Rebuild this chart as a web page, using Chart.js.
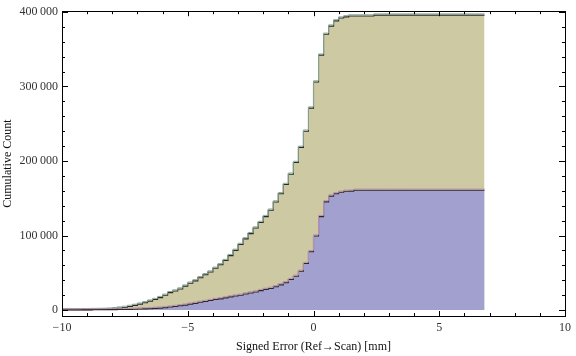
<!DOCTYPE html>
<html>
<head>
<meta charset="utf-8">
<script src="https://cdn.jsdelivr.net/npm/chart.js@4"></script>
<style>
html,body{margin:0;padding:0;background:#fff;}
#wrap{width:576px;height:356px;}
</style>
</head>
<body>
<div id="wrap"><canvas id="c" width="576" height="356"></canvas></div>
<script>
// Bin left edges (plus final right edge) in mm
const binEdges = [-10,-9.8,-9.6,-9.4,-9.2,-9,-8.8,-8.6,-8.4,-8.2,-8,-7.8,-7.6,-7.4,-7.2,-7,-6.8,-6.6,-6.4,-6.2,-6,-5.8,-5.6,-5.4,-5.2,-5,-4.8,-4.6,-4.4,-4.2,-4,-3.8,-3.6,-3.4,-3.2,-3,-2.8,-2.6,-2.4,-2.2,-2,-1.8,-1.6,-1.4,-1.2,-1,-0.8,-0.6,-0.4,-0.2,0,0.2,0.4,0.6,0.8,1,1.2,1.4,1.6,1.8,2,2.2,2.4,2.6,2.8,3,3.2,3.4,3.6,3.8,4,4.2,4.4,4.6,4.8,5,5.2,5.4,5.6,5.8,6,6.2,6.4,6.6,6.8];

// Cumulative counts, larger dataset
const cumulativeAll = [300,350,400,450,500,550,650,750,900,1200,1800,2600,3500,4800,6200,7900,9700,11900,14100,16700,19800,23300,25500,28200,32100,36000,39100,43300,47300,51000,56000,60700,66400,73000,80100,88000,95500,102500,110000,117500,125400,134000,145000,156000,168500,182300,198000,218300,240000,271000,306000,342000,370000,381000,388000,391800,393400,394600,394600,394600,394600,394600,395800,395800,395800,395800,395800,395800,395800,395800,395800,395800,395800,395800,395800,395800,395800,395800,395800,395800,395800,395800,395800,395800,395800];

// Cumulative counts, smaller dataset
const cumulativeSubset = [50,80,100,150,200,250,300,350,400,500,600,700,800,900,1100,1300,1600,1800,2200,2600,3100,4000,4800,5700,6600,7900,9000,10500,11500,12700,14100,15000,16300,17600,18900,19800,21600,22900,24200,26000,27700,29000,31200,33800,36700,40900,45300,52100,62500,78300,99400,125400,145200,152900,156000,158000,159300,159500,160800,160800,160800,160800,160800,160800,160800,160800,160800,160800,160800,160800,160800,160800,160800,160800,160800,160800,160800,160800,160800,160800,160800,160800,160800,160800,160800];

const xMajorTicks = [-10,-5,0,5,10];
const yMajorTicks = [0,100000,200000,300000,400000];

const toPts = (vals) => binEdges.map((x,i)=>({x:x, y:vals[i]}));

const FONT = "'Liberation Serif', 'Times New Roman', serif";

function fmtNum(v){
  if (v === 0) return '0';
  const s = String(Math.abs(v));
  const parts = [];
  for (let i = s.length; i > 0; i -= 3) parts.unshift(s.substring(Math.max(0,i-3), i));
  return (v<0?'\u2212':'') + parts.join('\u2009');
}

const shiftPlugin = {
  id: 'shiftHighlight',
  beforeDatasetDraw(chart, args){
    const ds = chart.data.datasets[args.index];
    if (ds.shiftY){ chart.ctx.save(); chart.ctx.translate(0, ds.shiftY); }
  },
  afterDatasetDraw(chart, args){
    const ds = chart.data.datasets[args.index];
    if (ds.shiftY){ chart.ctx.restore(); }
  }
};

const framePlugin = {
  id: 'frameTicks',
  afterDatasetsDraw(chart){
    const {ctx, chartArea:a, scales} = chart;
    const xs = scales.x, ys = scales.y;
    ctx.save();
    ctx.strokeStyle = '#000';
    ctx.lineWidth = 1;
    ctx.strokeRect(Math.round(a.left)+0.5, Math.round(a.top)+0.5, Math.round(a.right-a.left), Math.round(a.bottom-a.top));
    const tick = (x1,y1,x2,y2)=>{ctx.beginPath();ctx.moveTo(x1,y1);ctx.lineTo(x2,y2);ctx.stroke();};
    // x ticks
    for (let v = -10; v <= 10; v += 1){
      const major = xMajorTicks.includes(v);
      const px = Math.round(xs.getPixelForValue(v)) + 0.5;
      const L = major ? 5 : 3;
      tick(px, a.bottom, px, a.bottom - L);
      tick(px, a.top, px, a.top + L);
    }
    for (let v = 0; v <= 400000; v += 20000){
      const major = yMajorTicks.includes(v);
      const py = Math.round(ys.getPixelForValue(v)) + 0.5;
      const L = major ? 6 : 3;
      tick(a.left, py, a.left + L, py);
      tick(a.right, py, a.right - L, py);
    }
    ctx.restore();
  }
};

const DARK = '#2a2a2a';

new Chart(document.getElementById('c'), {
  type: 'line',
  data: {
    datasets: [
      { data: toPts(cumulativeAll), stepped: true, fill: 'origin', backgroundColor: '#CDC9A3', borderColor: DARK, borderWidth: 1.1, pointRadius: 0, order: 4 },
      { data: toPts(cumulativeAll), stepped: true, fill: false, borderColor: '#86A592', borderWidth: 1, pointRadius: 0, order: 3, shiftY: -1.2 },
      { data: toPts(cumulativeSubset), stepped: true, fill: 'origin', backgroundColor: '#A1A0CF', borderColor: DARK, borderWidth: 1.1, pointRadius: 0, order: 2 },
      { data: toPts(cumulativeSubset), stepped: true, fill: false, borderColor: '#BC90AE', borderWidth: 1, pointRadius: 0, order: 1, shiftY: -1.2 }
    ]
  },
  options: {
    responsive: false,
    animation: false,
    devicePixelRatio: 1,
    layout: { padding: { top: 6, right: 9, left: 0, bottom: 0 } },
    plugins: { legend: { display: false }, tooltip: { enabled: false } },
    elements: { line: { tension: 0 } },
    scales: {
      x: {
        type: 'linear', min: -10, max: 10,
        grid: { display: false, drawTicks: false },
        border: { display: false },
        afterBuildTicks: (s) => { s.ticks = xMajorTicks.map(v=>({value:v})); },
        afterFit: (s) => { s.height = 40; },
        ticks: { padding: 5, color: '#333', font: { family: FONT, size: 12 }, maxRotation: 0, autoSkip: false,
          callback: (v) => v < 0 ? '\u2212' + Math.abs(v) : String(v) },
        title: { display: true, text: 'Signed Error (Ref\u2192Scan) [mm]', color: '#111', font: { family: FONT, size: 12 }, padding: { top: 0, bottom: 2 } }
      },
      y: {
        type: 'linear', min: -8000, max: 401000,
        grid: { display: false, drawTicks: false },
        border: { display: false },
        afterBuildTicks: (s) => { s.ticks = yMajorTicks.map(v=>({value:v})); },
        afterFit: (s) => { s.width = 62; },
        ticks: { padding: 4, color: '#333', font: { family: FONT, size: 12 }, autoSkip: false, callback: (v) => fmtNum(v) },
        title: { display: true, text: 'Cumulative Count', color: '#111', font: { family: FONT, size: 12 }, padding: { top: 1, bottom: 0 } }
      }
    }
  },
  plugins: [shiftPlugin, framePlugin]
});
</script>
</body>
</html>
